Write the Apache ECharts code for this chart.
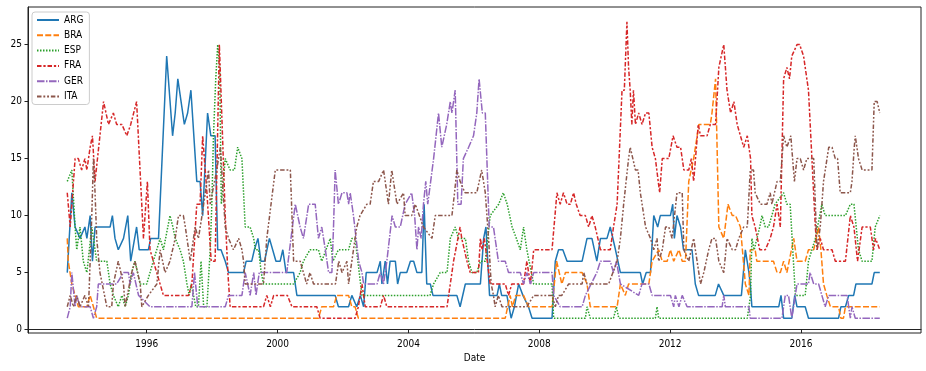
<!DOCTYPE html>
<html><head><meta charset="utf-8">
<script src="https://cdn.jsdelivr.net/npm/echarts@6/dist/echarts.min.js"></script>
<style>html,body{margin:0;padding:0;background:#fff}#c{width:926px;height:371px}</style>
</head><body><div id="c"></div>
<script>
// [decimal year, FIFA rank]
const ARG = [[1993.57,5],[1993.71,12],[1993.81,9],[1993.96,8],[1994.11,9],[1994.17,8],[1994.27,10],[1994.34,6],[1994.42,9],[1994.88,9],[1994.95,10],[1995.03,8],[1995.13,7],[1995.29,8],[1995.42,10],[1995.51,6],[1995.69,9],[1995.77,7],[1996.05,7],[1996.12,8],[1996.36,8],[1996.61,24],[1996.79,17],[1996.87,19],[1996.95,22],[1997.15,18],[1997.25,19],[1997.35,21],[1997.53,13],[1997.63,13],[1997.71,10],[1997.86,19],[1997.96,17],[1998.09,17],[1998.17,7],[1998.27,7],[1998.40,6],[1998.50,5],[1998.96,5],[1999.04,6],[1999.21,6],[1999.29,7],[1999.40,8],[1999.49,6],[1999.60,6],[1999.75,8],[1999.95,6],[2000.08,6],[2000.16,7],[2000.26,5],[2000.49,5],[2000.59,3],[2001.76,3],[2001.86,2],[2002.17,2],[2002.27,3],[2002.42,2],[2002.53,3],[2002.63,2],[2002.71,5],[2003.04,5],[2003.14,6],[2003.19,4],[2003.29,6],[2003.36,4],[2003.44,6],[2003.60,6],[2003.67,4],[2003.75,5],[2003.95,5],[2004.06,6],[2004.16,6],[2004.26,5],[2004.41,5],[2004.48,11],[2004.56,4],[2004.67,4],[2004.75,3],[2005.48,3],[2005.58,2],[2005.74,4],[2006.20,4],[2006.30,8],[2006.37,9],[2006.48,3],[2006.71,3],[2006.78,4],[2006.85,3],[2007.01,3],[2007.14,1],[2007.24,2],[2007.37,4],[2007.50,3],[2007.67,2],[2007.78,1],[2008.39,1],[2008.49,6],[2008.59,7],[2008.72,7],[2008.85,6],[2009.31,6],[2009.46,8],[2009.61,8],[2009.76,6],[2009.87,8],[2010.07,8],[2010.17,9],[2010.33,7],[2010.48,5],[2011.09,5],[2011.16,4],[2011.27,5],[2011.40,5],[2011.50,10],[2011.55,10],[2011.62,9],[2011.70,10],[2012.01,10],[2012.08,11],[2012.13,8],[2012.21,10],[2012.32,9],[2012.41,7],[2012.67,7],[2012.77,4],[2012.87,3],[2013.38,3],[2013.48,4],[2013.54,4],[2013.64,3],[2014.18,3],[2014.30,7],[2014.41,5],[2014.45,4],[2014.50,2],[2015.32,2],[2015.39,3],[2015.47,1],[2015.72,1],[2015.81,3],[2015.88,2],[2016.13,2],[2016.23,1],[2017.15,1],[2017.22,2],[2017.36,2],[2017.46,3],[2017.61,3],[2017.68,4],[2018.17,4],[2018.24,5],[2018.41,5]];
const BRA = [[1993.57,8],[1993.60,6],[1993.71,4],[1993.81,3],[1993.91,2],[1994.06,2],[1994.17,2],[1994.27,3],[1994.37,2],[1994.47,1],[2001.25,1],[2001.35,2],[2001.71,2],[2001.81,3],[2002.17,3],[2002.27,2],[2002.37,2],[2002.47,1],[2006.96,1],[2007.11,3],[2007.18,2],[2007.28,3],[2007.42,3],[2007.52,3],[2007.67,2],[2008.39,2],[2008.53,6],[2008.69,4],[2008.80,5],[2009.31,5],[2009.46,4],[2009.56,2],[2010.38,2],[2010.48,4],[2010.63,3],[2010.73,4],[2011.35,4],[2011.45,6],[2011.65,7],[2011.76,6],[2011.91,6],[2012.01,7],[2012.11,6],[2012.27,7],[2012.37,6],[2012.47,6],[2012.57,13],[2012.72,15],[2012.88,18],[2013.23,18],[2013.28,19],[2013.39,22],[2013.49,9],[2013.64,8],[2013.77,11],[2013.90,10],[2014.00,10],[2014.15,9],[2014.30,4],[2014.41,3],[2014.45,7],[2014.60,7],[2014.65,6],[2015.16,6],[2015.27,5],[2015.37,5],[2015.47,6],[2015.57,5],[2015.78,8],[2015.88,6],[2016.13,6],[2016.23,7],[2016.39,7],[2016.54,9],[2016.61,7],[2016.69,4],[2016.79,3],[2016.90,2],[2017.15,2],[2017.22,1],[2017.30,1],[2017.36,2],[2018.41,2]];
const ESP = [[1993.57,13],[1993.71,14],[1993.81,9],[1993.86,7],[1993.96,9],[1994.06,6],[1994.17,5],[1994.32,9],[1994.37,8],[1994.47,6],[1994.78,6],[1994.88,4],[1994.98,3],[1995.13,2],[1995.24,3],[1995.34,2],[1995.44,3],[1995.54,5],[1995.64,6],[1995.80,4],[1996.00,4],[1996.20,6],[1996.41,8],[1996.51,7],[1996.71,10],[1996.80,9],[1996.87,8],[1997.02,7],[1997.12,6],[1997.23,4],[1997.30,3],[1997.36,4],[1997.43,3],[1997.50,2],[1997.58,2],[1997.66,6],[1997.74,2],[1997.84,2],[1997.94,7],[1997.99,11],[1998.04,17],[1998.11,22],[1998.17,25],[1998.23,23],[1998.28,11],[1998.40,15],[1998.55,14],[1998.68,14],[1998.78,16],[1998.91,15],[1999.01,9],[1999.16,9],[1999.27,8],[1999.32,7],[1999.42,7],[1999.50,5],[1999.57,4],[2000.49,4],[2000.69,5],[2000.79,6],[2000.99,7],[2001.25,7],[2001.35,6],[2001.61,8],[2001.69,6],[2001.86,7],[2002.17,7],[2002.27,8],[2002.37,8],[2002.58,3],[2004.66,3],[2004.77,4],[2004.97,5],[2005.18,5],[2005.28,8],[2005.43,9],[2005.53,8],[2005.74,8],[2005.84,6],[2005.94,5],[2006.09,5],[2006.20,6],[2006.35,6],[2006.50,10],[2006.76,11],[2006.90,12],[2007.02,11],[2007.17,9],[2007.30,8],[2007.42,7],[2007.52,9],[2007.62,7],[2007.83,4],[2008.39,4],[2008.44,1],[2009.41,1],[2009.46,2],[2009.56,1],[2010.27,1],[2010.36,2],[2010.43,1],[2011.55,1],[2011.60,2],[2011.65,1],[2014.36,1],[2014.46,3],[2014.50,8],[2014.57,7],[2014.74,9],[2014.81,10],[2014.91,9],[2015.01,9],[2015.11,10],[2015.21,11],[2015.47,12],[2015.57,11],[2015.67,11],[2015.83,3],[2016.13,3],[2016.23,6],[2016.44,8],[2016.64,11],[2016.74,10],[2017.36,10],[2017.51,11],[2017.62,11],[2017.76,7],[2017.87,6],[2018.17,6],[2018.27,9],[2018.41,10]];
const FRA = [[1993.57,12],[1993.66,9],[1993.71,11],[1993.81,15],[1993.91,15],[1994.01,14],[1994.11,15],[1994.17,14],[1994.27,16],[1994.34,17],[1994.42,13],[1994.68,20],[1994.83,18],[1994.98,19],[1995.08,18],[1995.24,18],[1995.39,17],[1995.51,18],[1995.69,20],[1995.90,8],[1996.02,13],[1996.10,7],[1996.51,3],[1997.28,3],[1997.38,4],[1997.53,11],[1997.63,11],[1997.71,17],[1997.84,12],[1997.97,6],[1998.09,6],[1998.22,25],[1998.27,25],[1998.40,10],[1998.48,5],[1998.55,2],[1999.57,2],[1999.67,3],[1999.78,2],[1999.88,3],[2000.30,3],[2000.44,2],[2001.20,2],[2001.30,1],[2002.37,1],[2002.47,2],[2002.58,4],[2002.63,3],[2002.68,2],[2003.14,2],[2003.24,3],[2003.34,2],[2005.18,2],[2005.28,4],[2005.38,6],[2005.58,9],[2005.63,8],[2005.79,6],[2005.89,5],[2006.14,5],[2006.20,8],[2006.25,7],[2006.32,8],[2006.50,4],[2006.96,4],[2007.06,3],[2007.16,4],[2007.52,4],[2007.62,6],[2007.73,4],[2007.83,7],[2008.39,7],[2008.54,12],[2008.64,11],[2008.74,12],[2008.85,11],[2008.95,11],[2009.05,12],[2009.13,11],[2009.25,10],[2009.41,10],[2009.51,9],[2009.61,10],[2009.71,9],[2009.87,7],[2010.17,7],[2010.27,9],[2010.38,11],[2010.53,21],[2010.60,21],[2010.68,27],[2010.73,23],[2010.78,21],[2010.83,18],[2010.88,21],[2010.94,18],[2011.04,19],[2011.14,18],[2011.25,19],[2011.35,19],[2011.45,16],[2011.55,15],[2011.68,12],[2011.76,15],[2011.96,15],[2012.09,17],[2012.21,16],[2012.32,16],[2012.42,14],[2012.57,14],[2012.65,15],[2012.72,13],[2012.86,18],[2012.93,17],[2013.13,17],[2013.23,18],[2013.39,18],[2013.49,23],[2013.64,25],[2013.74,21],[2013.85,19],[2013.95,20],[2014.05,18],[2014.25,16],[2014.36,17],[2014.46,15],[2014.50,10],[2014.60,9],[2014.74,7],[2014.91,7],[2015.06,8],[2015.16,9],[2015.27,11],[2015.32,10],[2015.37,9],[2015.47,22],[2015.57,23],[2015.65,22],[2015.72,24],[2015.88,25],[2015.96,25],[2016.08,24],[2016.23,21],[2016.28,21],[2016.44,9],[2016.49,7],[2016.59,8],[2016.69,7],[2016.95,7],[2017.05,6],[2017.36,6],[2017.51,10],[2017.62,9],[2017.73,6],[2017.87,9],[2018.12,9],[2018.22,7],[2018.28,8],[2018.41,7]];
const GER = [[1993.57,1],[1993.66,2],[1993.71,5],[1993.81,2],[1993.86,3],[1993.96,2],[1994.27,2],[1994.37,1],[1994.47,2],[1994.52,4],[1995.08,4],[1995.29,5],[1995.44,5],[1995.49,4],[1995.59,5],[1995.75,3],[1996.10,2],[1997.38,2],[1997.46,5],[1997.56,2],[1998.40,2],[1998.50,3],[1998.91,3],[1999.01,5],[1999.16,3],[1999.27,5],[1999.34,3],[1999.44,5],[2000.28,5],[2000.54,11],[2000.69,9],[2000.79,8],[2000.95,11],[2001.15,11],[2001.25,8],[2001.35,9],[2001.46,7],[2001.56,5],[2001.66,5],[2001.71,9],[2001.76,14],[2001.86,11],[2001.97,12],[2002.12,12],[2002.17,11],[2002.22,12],[2002.32,10],[2002.48,6],[2002.58,5],[2002.63,4],[2003.04,4],[2003.14,5],[2003.24,4],[2003.34,6],[2003.50,10],[2003.60,9],[2003.75,9],[2003.90,11],[2004.10,12],[2004.19,10],[2004.26,7],[2004.31,9],[2004.39,8],[2004.46,11],[2004.53,13],[2004.59,11],[2004.77,15],[2004.92,19],[2005.02,16],[2005.17,18],[2005.28,20],[2005.33,19],[2005.43,21],[2005.51,11],[2005.61,11],[2005.68,15],[2005.84,16],[2005.99,17],[2006.09,19],[2006.16,22],[2006.26,19],[2006.35,19],[2006.47,9],[2006.60,9],[2006.75,6],[2006.96,6],[2007.06,5],[2007.42,5],[2007.52,4],[2007.62,5],[2007.73,4],[2007.83,5],[2008.39,5],[2008.44,3],[2008.64,2],[2009.31,2],[2009.41,3],[2009.76,5],[2009.87,6],[2010.17,6],[2010.27,5],[2010.36,6],[2010.48,4],[2011.04,3],[2011.14,4],[2011.35,4],[2011.45,3],[2012.01,3],[2012.11,2],[2012.16,3],[2012.27,2],[2012.37,3],[2012.52,2],[2013.59,2],[2013.64,3],[2013.69,2],[2014.41,2],[2014.45,1],[2015.42,1],[2015.52,3],[2015.62,3],[2015.72,1],[2015.88,4],[2016.23,4],[2016.28,5],[2016.39,4],[2016.54,4],[2016.64,3],[2016.74,2],[2016.85,3],[2017.41,3],[2017.51,1],[2017.56,2],[2017.66,1],[2018.41,1]];
const ITA = [[1993.57,2],[1993.66,3],[1993.76,2],[1993.86,3],[1993.96,2],[1994.11,3],[1994.22,2],[1994.32,10],[1994.37,15],[1994.42,12],[1994.47,8],[1994.57,5],[1994.78,2],[1994.93,2],[1994.98,4],[1995.13,6],[1995.29,4],[1995.34,2],[1995.54,5],[1995.64,6],[1995.80,4],[1995.85,2],[1996.05,3],[1996.31,4],[1996.41,7],[1996.56,5],[1996.71,6],[1996.87,8],[1996.97,10],[1997.12,10],[1997.18,9],[1997.28,7],[1997.33,6],[1997.43,8],[1997.48,9],[1997.58,8],[1997.69,10],[1997.79,12],[1997.89,14],[1997.94,11],[1998.14,14],[1998.25,16],[1998.40,9],[1998.50,8],[1998.65,7],[1998.81,8],[1998.91,7],[1998.96,6],[1999.01,4],[1999.57,4],[1999.67,8],[1999.93,14],[2000.39,14],[2000.44,10],[2000.49,6],[2000.69,6],[2000.79,5],[2000.89,4],[2000.99,5],[2001.10,4],[2001.77,4],[2001.82,5],[2001.87,6],[2001.97,5],[2002.12,6],[2002.17,4],[2002.22,5],[2002.42,9],[2002.52,10],[2002.73,11],[2002.83,11],[2002.93,13],[2003.09,13],[2003.24,14],[2003.39,11],[2003.49,14],[2003.65,11],[2003.85,12],[2003.90,10],[2004.10,10],[2004.21,11],[2004.46,9],[2004.72,8],[2004.82,10],[2005.33,10],[2005.41,12],[2005.48,14],[2005.58,13],[2005.73,12],[2006.09,12],[2006.24,14],[2006.35,12],[2006.45,8],[2006.53,4],[2006.60,3],[2006.65,2],[2006.75,3],[2006.86,2],[2007.62,2],[2007.83,3],[2008.39,3],[2008.49,2],[2008.59,3],[2008.69,3],[2008.90,4],[2009.31,4],[2009.36,5],[2009.46,4],[2010.12,4],[2010.38,6],[2010.48,8],[2010.58,11],[2010.73,15],[2010.78,16],[2010.94,14],[2011.02,14],[2011.09,12],[2011.25,9],[2011.40,8],[2011.50,7],[2011.60,8],[2011.65,6],[2011.76,7],[2011.86,9],[2011.96,9],[2012.06,8],[2012.21,12],[2012.37,12],[2012.42,7],[2012.57,6],[2012.72,8],[2012.93,4],[2013.03,5],[2013.18,7],[2013.28,8],[2013.39,8],[2013.49,6],[2013.64,5],[2013.74,8],[2013.90,7],[2014.00,7],[2014.10,8],[2014.25,9],[2014.36,9],[2014.45,14],[2014.55,14],[2014.60,12],[2014.76,11],[2014.96,11],[2015.06,12],[2015.11,11],[2015.27,13],[2015.37,13],[2015.47,17],[2015.57,16],[2015.69,17],[2015.80,13],[2015.88,15],[2015.98,15],[2016.08,14],[2016.18,15],[2016.28,15],[2016.39,15],[2016.49,7],[2016.59,9],[2016.69,13],[2016.85,16],[2016.95,16],[2017.05,15],[2017.12,15],[2017.20,12],[2017.51,12],[2017.56,13],[2017.63,16],[2017.66,17],[2017.76,15],[2017.87,14],[2018.17,14],[2018.24,20],[2018.33,20],[2018.41,19]];

const names = ['ARG','BRA','ESP','FRA','GER','ITA'];
const seriesData = [ARG, BRA, ESP, FRA, GER, ITA];
const colors = ['#1f77b4','#ff7f0e','#2ca02c','#d62728','#9467bd','#8c564b'];
const dashes = ['solid',[6,2.25],[1.5,1.5],[4.5,1.875,2.25,1.875],[7.5,1.5,1.5,1.5],[4.5,1.875,1.875,1.875,1.875,1.875]];
const xTicks = [1996,2000,2004,2008,2012,2016];
const yTicks = [0,5,10,15,20,25];

const FONT = "'DejaVu Sans Condensed','DejaVu Sans',sans-serif";
const chart = echarts.init(document.getElementById('c'), null, {renderer:'canvas'});
chart.setOption({
  animation:false,
  backgroundColor:'#fff',
  grid:{left:28, top:7, right:5, bottom:38, show:true, borderColor:'#222', borderWidth:1, backgroundColor:'transparent'},
  legend:{
    orient:'vertical', left:32, top:12, data:names,
    itemWidth:22, itemHeight:12, itemGap:5.3,
    padding:[3,6,3,4],
    backgroundColor:'rgba(255,255,255,0.8)', borderColor:'#cccccc', borderWidth:1, borderRadius:3,
    itemStyle:{opacity:0},
    textStyle:{fontFamily:FONT, fontSize:10, color:'#000'}
  },
  xAxis:{
    type:'value', min:1992.37, max:2019.67, name:'Date', nameLocation:'middle', nameGap:20,
    nameTextStyle:{fontFamily:FONT, fontSize:10, color:'#000'},
    axisLine:{show:true, lineStyle:{color:'#222', width:1}},
    axisTick:{show:true, length:3.5, customValues:xTicks, lineStyle:{color:'#222'}},
    axisLabel:{customValues:xTicks, formatter:v=>String(v), fontFamily:FONT, fontSize:10, color:'#000', margin:6},
    splitLine:{show:false}
  },
  yAxis:{
    type:'value', min:-0.3, max:28.3,
    axisLine:{show:true, lineStyle:{color:'#222', width:1}},
    axisTick:{show:true, length:3.5, customValues:yTicks, lineStyle:{color:'#222'}},
    axisLabel:{customValues:yTicks, fontFamily:FONT, fontSize:10, color:'#000', margin:6},
    splitLine:{show:false}
  },
  series: names.map((n,i)=>({
    name:n, type:'line', data:seriesData[i], symbol:'none', showSymbol:false,
    lineStyle:{color:colors[i], width:1.5, type:dashes[i]}, itemStyle:{color:colors[i]},
    emphasis:{disabled:true}
  }))
});
</script></body></html>
